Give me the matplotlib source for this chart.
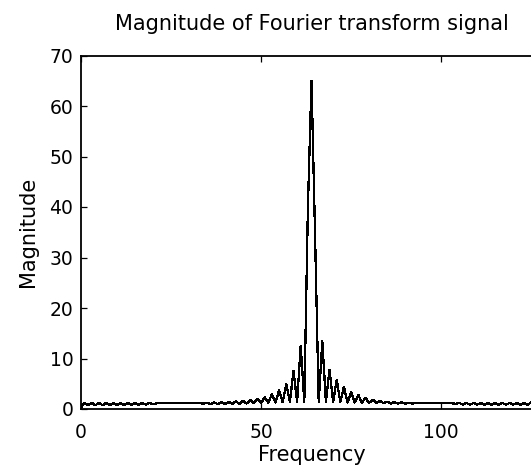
import numpy as np
import matplotlib
matplotlib.use('Agg')
import matplotlib.pyplot as plt

# |FFT| of the signal, one value per frequency bin
magnitude = [
    0.3, 1.2, 0.75, 1.2, 0.75, 1.2, 0.75, 1.2, 0.75, 1.2,      # 0-9
    0.75, 1.2, 0.75, 1.2, 0.8, 1.2, 0.8, 1.2, 0.85, 1.2,       # 10-19
    0.95, 1.15, 1.12, 1.15, 1.12, 1.15, 1.12, 1.15, 1.12, 1.15,  # 20-29
    1.12, 1.15, 1.12, 1.15, 1.05, 1.25, 0.95, 1.3, 0.95, 1.35,  # 30-39
    1.0, 1.4, 1.0, 1.5, 1.05, 1.6, 1.1, 1.75, 1.15, 1.95,       # 40-49
    1.2, 2.3, 1.25, 2.9, 1.3, 3.7, 1.35, 5.0, 1.4, 7.6,        # 50-59
    1.4, 12.5, 1.45, 40.0, 65.0, 34.0, 1.45, 13.5, 1.4, 7.8,   # 60-69
    1.4, 5.8, 1.35, 4.4, 1.3, 3.4, 1.3, 2.8, 1.25, 2.2,        # 70-79
    1.2, 1.85, 1.2, 1.6, 1.15, 1.45, 1.1, 1.35, 1.1, 1.3,      # 80-89
    1.05, 1.25, 1.05, 1.2, 1.12, 1.15, 1.12, 1.15, 1.12, 1.15,  # 90-99
    1.12, 1.15, 1.12, 1.15, 1.0, 1.2, 0.9, 1.2, 0.85, 1.2,     # 100-109
    0.85, 1.2, 0.85, 1.2, 0.85, 1.2, 0.85, 1.2, 0.85, 1.2,     # 110-119
    0.85, 1.2, 0.85, 1.2, 0.8, 1.35, 0.7, 1.2,                 # 120-127
]
freq = np.arange(len(magnitude))

xticks = [0, 50, 100]
yticks = [0, 10, 20, 30, 40, 50, 60, 70]

plt.rcParams['font.family'] = 'DejaVu Sans'
fs_tick = 13.5
fs_label = 15

fig = plt.figure(figsize=(5.31, 4.76), dpi=100)
# the right edge of the axes box falls outside the picture, as in the original
ax = fig.add_axes([81 / 531, 1 - 409 / 476, (542 - 81) / 531, (409 - 55.5) / 476])

ax.plot(freq, magnitude, color='k', linewidth=0.9, antialiased=False)

ax.set_xlim(0, 128)
ax.set_ylim(0, 70)
ax.set_xticks(xticks)
ax.set_yticks(yticks)
ax.tick_params(direction='in', length=4, width=0.9, top=True, right=True,
               labelsize=fs_tick)
ax.tick_params(axis='x', pad=10)
ax.tick_params(axis='y', pad=5.5)
for s in ax.spines.values():
    s.set_linewidth(1.3)

ax.set_xlabel('Frequency', fontsize=fs_label, labelpad=2)
ax.set_ylabel('Magnitude', fontsize=fs_label, labelpad=8)
ax.set_title('Magnitude of Fourier transform signal', fontsize=fs_label, pad=18)

fig.savefig('out.png', dpi=100)
